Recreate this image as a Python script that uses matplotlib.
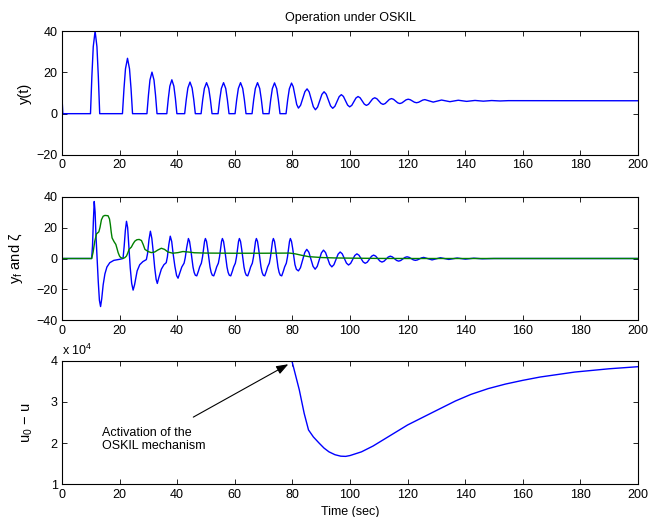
import matplotlib
matplotlib.use("Agg")
import matplotlib.pyplot as plt
from matplotlib.ticker import FuncFormatter

plt.rcParams['font.family'] = ['Liberation Sans', 'DejaVu Sans']
plt.rcParams['mathtext.fontset'] = 'custom'
plt.rcParams['mathtext.rm'] = 'Liberation Sans'
plt.rcParams['mathtext.it'] = 'Liberation Sans:italic'
plt.rcParams['font.size'] = 9

# ---------------- data ----------------
x_ticks = [0, 20, 40, 60, 80, 100, 120, 140, 160, 180, 200]
y1_ticks = [-20, 0, 20, 40]
y2_ticks = [-40, -20, 0, 20, 40]
y3_ticks = [1e4, 2e4, 3e4, 4e4]

# panel 1 : y(t)
t_y = [0, 0.3, 9.9, 10.38, 10.86, 11.5, 12.14, 12.62, 13.1,
       21.0, 21.53, 22.05, 22.75, 23.45, 23.98, 24.5,
       29.5, 30.03, 30.55, 31.25, 31.95, 32.48, 33.0,
       36.4, 36.93, 37.45, 38.15, 38.85, 39.38, 39.9,
       42.6, 43.16, 43.71, 44.45, 45.19, 45.75, 46.3,
       48.3, 48.87, 49.44, 50.2, 50.96, 51.53, 52.1,
       54.2, 54.77, 55.34, 56.1, 56.86, 57.43, 58.0,
       60.1, 60.67, 61.24, 62.0, 62.76, 63.33, 63.9,
       66.0, 66.57, 67.14, 67.9, 68.66, 69.23, 69.8,
       71.9, 72.47, 73.04, 73.8, 74.56, 75.13, 75.7,
       77.8, 78.37, 78.94, 79.7,
       80.3, 80.9, 81.5, 82.1, 82.85, 83.6, 84.35, 85.1,
       85.825, 86.55, 87.275, 88.0, 88.75, 89.5, 90.25, 91.0,
       91.75, 92.5, 93.25, 94.0, 94.75, 95.5, 96.25, 97.0,
       97.725, 98.45, 99.175, 99.9, 100.625, 101.35, 102.075, 102.8,
       103.525, 104.25, 104.975, 105.7, 106.425, 107.15, 107.875, 108.6,
       109.325, 110.05, 110.775, 111.5, 112.225, 112.95, 113.675, 114.4,
       115.125, 115.85, 116.575, 117.3, 118.025, 118.75, 119.475, 120.2,
       120.925, 121.65, 122.375, 123.1, 123.825, 124.55, 125.275, 126.0,
       127.45, 128.9, 130.35, 131.8, 133.25, 134.7, 136.15, 137.6,
       140.5, 143.4, 146.3, 149.2, 152.1, 155.0, 200.0]
v_y = [8, 0, 0, 18, 32.4, 40, 32.4, 18, 0,
       0, 12.1, 21.7, 26.8, 21.7, 12.1, 0,
       0, 9.0, 16.3, 20.1, 16.3, 9.0, 0,
       0, 7.4, 13.3, 16.4, 13.3, 7.4, 0,
       0, 6.9, 12.4, 15.3, 12.4, 6.9, 0,
       0, 6.8, 12.2, 15.0, 12.2, 6.8, 0,
       0, 6.8, 12.2, 15.0, 12.2, 6.8, 0,
       0, 6.8, 12.2, 15.0, 12.2, 6.8, 0,
       0, 6.8, 12.2, 15.0, 12.2, 6.8, 0,
       0, 6.7, 12.1, 14.9, 12.1, 6.7, 0,
       0, 6.7, 12.0, 14.8,
       13.03, 8.75, 4.47, 2.7, 4.06, 7.35, 10.64, 12.0,
       10.53, 6.95, 3.37, 1.9, 3.17, 6.25, 9.33, 10.6,
       9.43, 6.6, 3.77, 2.6, 3.56, 5.9, 8.24, 9.2,
       8.34, 6.25, 4.16, 3.3, 4.03, 5.8, 7.57, 8.3,
       7.67, 6.15, 4.63, 4.0, 4.54, 5.85, 7.16, 7.7,
       7.23, 6.1, 4.97, 4.5, 4.91, 5.9, 6.89, 7.3,
       6.95, 6.1, 5.25, 4.9, 5.21, 5.95, 6.69, 7.0,
       6.75, 6.15, 5.55, 5.3, 5.52, 6.05, 6.58, 6.8,
       6.2, 5.6, 6.1, 6.6, 6.2, 5.8, 6.15, 6.5,
       5.95, 6.4, 6.05, 6.35, 6.15, 6.3, 6.25]

# panel 2 : y_f (blue)
t_f = [0, 10.3, 10.6, 10.9, 11.2, 11.5, 11.8, 12.2, 12.6, 13.0, 13.4, 13.8, 14.3,
       14.9, 15.6, 16.6, 18.0, 20.1, 21.2, 21.6, 22.0, 22.4, 22.8, 23.2, 23.7,
       24.2, 24.7, 25.2, 26.1, 27.0, 28.1, 29.3, 29.7, 30.2, 30.7, 31.2, 31.7,
       32.2, 32.7, 33.1, 33.6, 34.5, 35.4, 36.2, 36.6, 37.1, 37.6, 38.1, 38.6,
       39.2, 39.8, 40.3, 40.8, 41.6, 42.4, 42.8, 43.3, 43.9,
       44.3, 44.7, 45.1, 45.5, 45.9, 46.3, 46.8, 47.4, 47.8, 48.4, 48.8, 49.2, 49.5, 49.8,
       50.2, 50.6, 51.0, 51.4, 51.8, 52.2, 52.7, 53.3, 53.7, 54.3, 54.7, 55.1, 55.4, 55.7,
       56.1, 56.5, 56.9, 57.3, 57.7, 58.1, 58.6, 59.2, 59.6, 60.2, 60.6, 61.0, 61.3, 61.6,
       62.0, 62.4, 62.8, 63.2, 63.6, 64.0, 64.5, 65.1, 65.5, 66.1, 66.5, 66.9, 67.2, 67.5,
       67.9, 68.3, 68.7, 69.1, 69.5, 69.9, 70.4, 71.0, 71.4, 72.0, 72.4, 72.8, 73.1, 73.4,
       73.8, 74.2, 74.6, 75.0, 75.4, 75.8, 76.3, 76.9, 77.3, 77.9, 78.3, 78.7, 79.0, 79.3,
       79.7, 80.1, 80.5, 80.9, 81.4, 82.1, 82.8, 83.55, 84.3, 85.0,
       85.725, 86.45, 87.175, 87.9, 88.625, 89.35, 90.075, 90.8,
       91.525, 92.25, 92.975, 93.7, 94.425, 95.15, 95.875, 96.6,
       97.325, 98.05, 98.775, 99.5, 100.225, 100.95, 101.675, 102.4,
       103.125, 103.85, 104.575, 105.3, 106.025, 106.75, 107.475, 108.2,
       108.925, 109.65, 110.375, 111.1, 111.825, 112.55, 113.275, 114.0,
       114.725, 115.45, 116.175, 116.9, 117.625, 118.35, 119.075, 119.8,
       120.525, 121.25, 121.975, 122.7, 123.425, 124.15, 124.875, 125.6,
       127.05, 128.5, 129.95, 131.4, 132.85, 134.3, 135.75, 137.2,
       138.65, 140.1, 141.55, 143.0, 145.9, 150.0, 200.0]
v_f = [0, 0, 8, 24, 36.8, 30, 15, 0, -15, -27, -31, -26, -17,
       -10, -5.5, -2.7, -1.2, -0.5, 0, 8, 18, 24, 20, 8, -6,
       -16, -20.4, -17, -8, -4, -2, -0.7, 3, 12, 17.6, 13, 4,
       -6, -13.5, -16.1, -12.5, -6.9, -4, -2.7, 1, 9, 14.4, 11, 3,
       -5, -11, -12.7, -10, -5.5, -3, 0.5, 7, 12.9,
       11, 6, 0, -5.5, -9, -10.8, -11.2, -8, -5.5, -3, 1, 7, 11, 12.9,
       11, 6, 0, -5.5, -9, -10.8, -11.2, -8, -5.5, -3, 1, 7, 11, 12.9,
       11, 6, 0, -5.5, -9, -10.8, -11.2, -8, -5.5, -3, 1, 7, 11, 12.9,
       11, 6, 0, -5.5, -9, -10.8, -11.2, -8, -5.5, -3, 1, 7, 11, 12.9,
       11, 6, 0, -5.5, -9, -10.8, -11.2, -8, -5.5, -3, 1, 7, 11, 12.9,
       11, 6, 0, -5.5, -9, -10.8, -11.2, -8, -5.5, -3, 1, 7, 11, 12.9,
       11, 6.5, 1, -4, -7, -8, -5.97, -1.05, 3.87, 5.9,
       4.03, -0.5, -5.03, -6.9, -5.1, -0.75, 3.6, 5.4,
       3.82, 0.0, -3.82, -5.4, -4.0, -0.6, 2.8, 4.2,
       2.97, 0.0, -2.97, -4.2, -3.15, -0.6, 1.95, 3.0,
       2.11, -0.05, -2.21, -3.1, -2.33, -0.45, 1.43, 2.2,
       1.54, -0.05, -1.64, -2.3, -1.75, -0.4, 0.95, 1.5,
       1.03, -0.1, -1.23, -1.7, -1.29, -0.3, 0.69, 1.1,
       0.76, -0.05, -0.86, -1.2, -0.92, -0.25, 0.42, 0.7,
       -0.1, -0.9, -0.2, 0.5, -0.05, -0.6, -0.15, 0.3,
       -0.05, -0.4, -0.1, 0.2, -0.2, 0.0, 0.0]

# panel 2 : zeta (green)
t_z = [0, 10.3, 10.8, 11.4, 12.0, 12.8, 13.2, 13.7, 14.3, 14.9, 16.0, 16.5, 16.8,
       17.1, 17.4, 18.1, 18.7, 19.1, 19.5, 20.0, 20.4, 21.2, 21.8, 22.4, 22.9,
       23.3, 24.1, 24.7, 25.3, 26.0, 26.8, 27.6, 28.2, 28.8, 29.9, 31.0, 32.2,
       33.3, 34.5, 35.6, 36.8, 38.5, 40.3, 42.0, 43.8, 46.0, 50.0, 60.0, 70.0,
       79.0, 81.0, 83.4, 85.7, 90.3, 95.0, 101.8, 110.0, 120.0, 200.0]
v_z = [0, 0, 4, 11.2, 15.9, 17.2, 20, 25, 27.3, 27.8, 27.6, 25.5, 21.9,
       17, 13.3, 10.8, 9.1, 6.5, 3.8, 1.5, 0.6, 0.1, 0.5, 1.6, 3.8,
       5.9, 7.4, 9.5, 11.2, 12.1, 12.3, 11.6, 9, 5.9, 4.5, 3.8, 4.2,
       5.5, 6.6, 5.9, 4.2, 3.4, 3.8, 4.5, 4.2, 3.7, 3.5, 3.4, 3.4,
       3.5, 3.0, 2.0, 1.2, 0.6, 0.35, 0.2, 0.05, 0.0, 0.0]

# panel 3 : u0 - u
t_u = [0, 79.8, 82.4, 84.1, 85.6, 87.3, 89.3, 91.0, 92.7, 94.8, 96.8, 98.5,
       100.0, 104.0, 108.0, 112.0, 116.0, 120.0, 124.0, 130.0, 136.6, 142.0,
       148.0, 154.0, 160.0, 166.0, 172.0, 178.0, 184.0, 190.0, 196.0, 200.0]
v_u = [4.0e4, 4.0e4, 3.29e4, 2.72e4, 2.32e4, 2.15e4, 2.0e4, 1.88e4, 1.79e4, 1.72e4,
       1.685e4, 1.68e4, 1.70e4, 1.79e4, 1.93e4, 2.10e4, 2.27e4, 2.44e4, 2.58e4,
       2.79e4, 3.02e4, 3.18e4, 3.32e4, 3.43e4, 3.52e4, 3.60e4, 3.66e4, 3.72e4,
       3.76e4, 3.80e4, 3.83e4, 3.85e4]

# ---------------- figure ----------------
fig = plt.figure(figsize=(6.51, 5.17), dpi=100)
left, width, height = 0.0952, 0.8848, 0.2398
ax1 = fig.add_axes([left, 0.7002, width, height])
ax2 = fig.add_axes([left, 0.3801, width, height])
ax3 = fig.add_axes([left, 0.0629, width, height])

blue = (0, 0, 1)
green = (0, 0.5, 0)

ax1.plot(t_y, v_y, color=blue, lw=1.0)
ax2.plot(t_f, v_f, color=blue, lw=1.0)
ax2.plot(t_z, v_z, color=green, lw=1.0)
ax3.plot(t_u, v_u, color=blue, lw=1.0)

for ax in (ax1, ax2, ax3):
    ax.set_xlim(0, 200)
    ax.set_xticks(x_ticks)
    ax.tick_params(direction='in', top=True, right=True, length=3.5,
                   width=0.6, labelsize=9, pad=3)
    for s in ax.spines.values():
        s.set_linewidth(0.8)

ax1.set_ylim(-20, 40)
ax1.set_yticks(y1_ticks)
ax2.set_ylim(-40, 40)
ax2.set_yticks(y2_ticks)
ax3.set_ylim(1e4, 4e4)
ax3.set_yticks(y3_ticks)
ax3.yaxis.set_major_formatter(FuncFormatter(lambda v, p: f"{v / 1e4:g}"))

ax1.set_title('Operation under OSKIL', fontsize=9, pad=7)
ax1.set_ylabel('y(t)', fontsize=10.5)
ax2.set_ylabel('y$_{\\mathrm{f}}$ and ζ', fontsize=10.5)
ax3.set_ylabel('u$_{\\mathrm{0}}$ − u', fontsize=10.5)
ax1.yaxis.set_label_coords(-0.052, 0.5)
ax2.yaxis.set_label_coords(-0.064, 0.5)
ax3.yaxis.set_label_coords(-0.047, 0.5)
ax3.set_xlabel('Time (sec)', fontsize=9, labelpad=3.5)

ax3.text(0.0, 1.02, 'x 10$^{\\mathrm{4}}$', transform=ax3.transAxes,
         ha='left', va='bottom', fontsize=9)

ax3.text(13.8, 2.09e4, 'Activation of the\nOSKIL mechanism', ha='left',
         va='center', fontsize=9, linespacing=1.15)
ax3.annotate('', xy=(78.6, 3.91e4), xytext=(45.6, 2.63e4),
             arrowprops=dict(arrowstyle='-|>,head_length=0.6,head_width=0.22',
                             color='k', lw=0.8, mutation_scale=12,
                             shrinkA=0, shrinkB=0))

fig.savefig('out.png', dpi=100)
